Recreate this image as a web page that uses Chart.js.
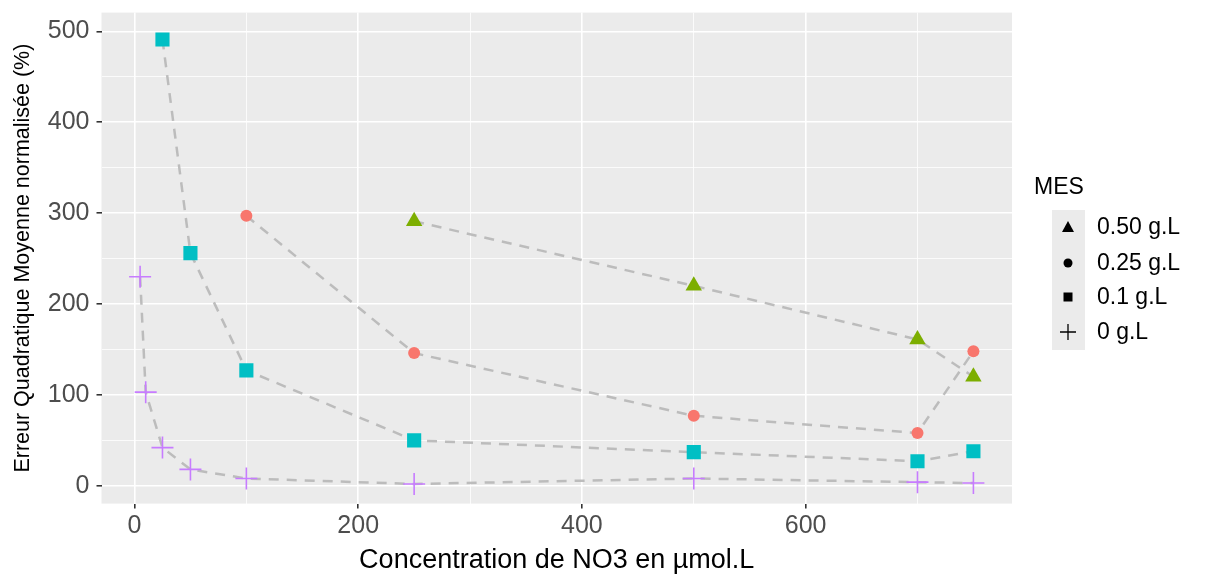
<!DOCTYPE html>
<html>
<head>
<meta charset="utf-8">
<script src="https://cdn.jsdelivr.net/npm/chart.js@4/dist/chart.umd.min.js"></script>
<style>
  html, body { margin: 0; padding: 0; background: #fff; }
  #wrap { width: 1208px; height: 579px; }
</style>
</head>
<body>
<div id="wrap"><canvas id="myChart" width="1208" height="579"></canvas></div>
<script>
// values
const conc0 = [5, 10, 25, 50, 100, 250, 500, 700, 750];
const err0 = [230, 103, 42, 18, 8, 2, 8, 4, 3];

const conc01 = [25, 50, 100, 250, 500, 700, 750];
const err01 = [491, 256, 127, 50, 37, 27, 38];

const conc025 = [100, 250, 500, 700, 750];
const err025 = [297, 146, 77, 58, 148];

const conc050 = [250, 500, 700, 750];
const err050 = [291, 220, 161, 120];

const xTicks = [0, 200, 400, 600];
const yTicks = [0, 100, 200, 300, 400, 500];

const legendLabels = ['0.50 g.L', '0.25 g.L', '0.1 g.L', '0 g.L'];
const legendShapes = ['triangle', 'circle', 'rect', 'cross'];

const toPoints = (xs, ys) => xs.map((x, i) => ({ x: x, y: ys[i] }));

const lineGrey = 'rgba(185,185,185,0.95)';
const fontFam = '"Liberation Sans", Arial, sans-serif';

function makeSet(label, xs, ys, shape, colour, radius) {
  return {
    label: label,
    data: toPoints(xs, ys),
    showLine: true,
    borderColor: lineGrey,
    borderWidth: 2.5,
    borderDash: [10, 8],
    tension: 0,
    pointStyle: shape,
    pointRadius: radius,
    pointHoverRadius: radius,
    pointBackgroundColor: colour,
    pointBorderColor: colour,
    pointBorderWidth: shape == 'cross' ? 1.6 : 0
  };
}

// no extra room for half tick labels, ggplot does not keep it
const noScalePad = scale => {
  scale.paddingTop = 0;
  scale.paddingBottom = 0;
  scale.paddingLeft = 0;
  scale.paddingRight = 0;
};

// grey panel behind the plot
const panelBg = {
  id: 'panelBg',
  beforeDraw(chart) {
    const a = chart.chartArea;
    const ctx = chart.ctx;
    ctx.save();
    ctx.fillStyle = '#EBEBEB';
    ctx.fillRect(a.left, a.top, a.right - a.left, a.bottom - a.top);
    ctx.restore();
  }
};

// legend in ggplot style
const ggLegend = {
  id: 'ggLegend',
  afterDraw(chart) {
    const ctx = chart.ctx;
    ctx.save();
    ctx.fillStyle = '#000';
    ctx.font = '23px ' + fontFam;
    ctx.textBaseline = 'middle';
    ctx.fillText('MES', 1034, 188);
    ctx.fillStyle = '#EBEBEB';
    ctx.fillRect(1052, 210, 33, 140);
    const rows = [227, 263, 297, 332];
    for (let i = 0; i < legendLabels.length; i++) {
      const cx = 1068, cy = rows[i];
      ctx.fillStyle = '#000';
      ctx.strokeStyle = '#000';
      ctx.beginPath();
      if (legendShapes[i] == 'triangle') {
        ctx.moveTo(cx, cy - 6); ctx.lineTo(cx + 6, cy + 5); ctx.lineTo(cx - 6, cy + 5); ctx.closePath(); ctx.fill();
      } else if (legendShapes[i] == 'circle') {
        ctx.arc(cx, cy, 4.5, 0, Math.PI * 2); ctx.fill();
      } else if (legendShapes[i] == 'rect') {
        ctx.fillRect(cx - 4.5, cy - 4.5, 9, 9);
      } else {
        ctx.lineWidth = 1.3;
        ctx.moveTo(cx - 8, cy); ctx.lineTo(cx + 8, cy);
        ctx.moveTo(cx, cy - 8); ctx.lineTo(cx, cy + 8);
        ctx.stroke();
      }
      ctx.fillStyle = '#000';
      ctx.fillText(legendLabels[i], 1097, cy + 1);
    }
    ctx.restore();
  }
};

const myChart = document.getElementById('myChart');

let scatterChart = new Chart(myChart, {
  type: 'scatter',
  data: {
    datasets: [
      makeSet('0.50 g.L', conc050, err050, 'triangle', '#7CAE00', 9.5),
      makeSet('0.25 g.L', conc025, err025, 'circle', '#F8766D', 6),
      makeSet('0.1 g.L', conc01, err01, 'rect', '#00BFC4', 10),
      makeSet('0 g.L', conc0, err0, 'cross', '#C77CFF', 11)
    ]
  },
  options: {
    responsive: false,
    animation: false,
    layout: { padding: { top: 8, right: 196, bottom: 2, left: 10 } },
    plugins: {
      legend: { display: false },
      tooltip: { enabled: false }
    },
    scales: {
      x: {
        type: 'linear',
        min: -29.5,
        max: 784.5,
        afterBuildTicks: scale => {
          scale.ticks = [0, 100, 200, 300, 400, 500, 600, 700].map(v => ({ value: v }));
        },
        afterFit: noScalePad,
        ticks: {
          autoSkip: false,
          maxRotation: 0,
          padding: 3,
          color: '#4D4D4D',
          font: { family: fontFam, size: 25 },
          callback: v => xTicks.includes(v) ? String(v) : ''
        },
        grid: {
          color: '#FFFFFF',
          lineWidth: c => xTicks.includes(c.tick.value) ? 1.6 : 0.8,
          tickColor: c => xTicks.includes(c.tick.value) ? '#333333' : 'rgba(0,0,0,0)',
          tickLength: 5
        },
        border: { display: false },
        title: {
          display: true,
          text: 'Concentration de NO3 en µmol.L',
          color: '#000',
          font: { family: fontFam, size: 27 },
          padding: { top: 0, bottom: 0 }
        }
      },
      y: {
        type: 'linear',
        min: -19.6,
        max: 520.6,
        afterBuildTicks: scale => {
          let t = [];
          for (let v = 0; v <= 500; v += 50) t.push({ value: v });
          scale.ticks = t;
        },
        afterFit: noScalePad,
        ticks: {
          autoSkip: false,
          padding: 7,
          color: '#4D4D4D',
          font: { family: fontFam, size: 25 },
          callback: v => yTicks.includes(v) ? String(v) : ''
        },
        grid: {
          color: '#FFFFFF',
          lineWidth: c => yTicks.includes(c.tick.value) ? 1.6 : 0.8,
          tickColor: c => yTicks.includes(c.tick.value) ? '#333333' : 'rgba(0,0,0,0)',
          tickLength: 5
        },
        border: { display: false },
        title: {
          display: true,
          text: 'Erreur Quadratique Moyenne normalisée (%)',
          color: '#000',
          font: { family: fontFam, size: 21.5 },
          padding: { top: 0, bottom: 5 }
        }
      }
    }
  },
  plugins: [panelBg, ggLegend]
});
</script>
</body>
</html>
